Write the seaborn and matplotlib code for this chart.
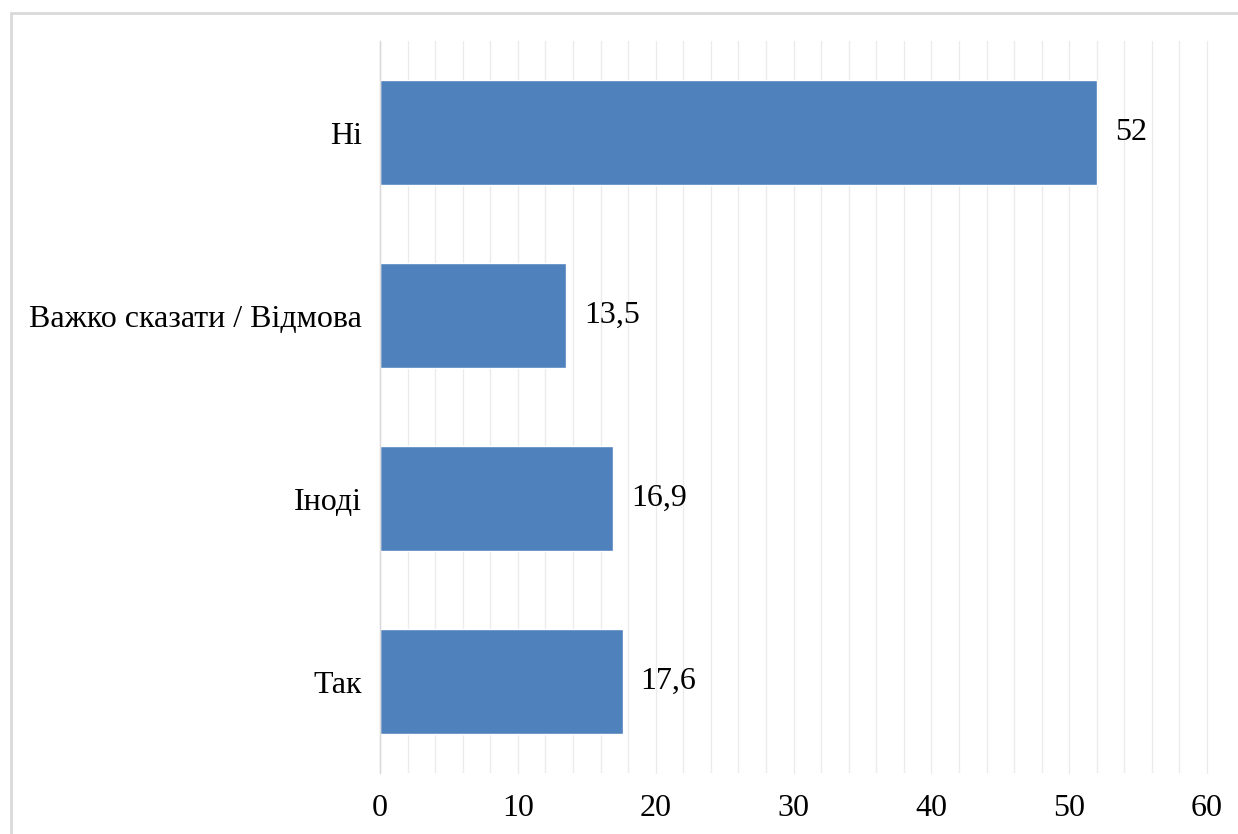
import matplotlib
matplotlib.use('Agg')
import matplotlib.pyplot as plt
import matplotlib.patches as patches
from matplotlib.ticker import MultipleLocator
import pandas as pd
import seaborn as sns

categories = ['Ні', 'Важко сказати / Відмова', 'Іноді', 'Так']
values = [52, 13.5, 16.9, 17.6]
value_labels = ['52', '13,5', '16,9', '17,6']
x_ticks = [0, 10, 20, 30, 40, 50, 60]

df = pd.DataFrame({'answer': categories, 'share': values})

sns.set_style('white')
plt.rcParams['font.family'] = ['Liberation Serif', 'DejaVu Serif']
plt.rcParams['text.color'] = 'black'

fig = plt.figure(figsize=(12.38, 8.34), dpi=100)
ax = fig.add_axes([0.307, 0.0731, 0.668, 0.8777])

sns.barplot(data=df, x='share', y='answer', order=categories, color='#4f81bd',
            saturation=1, width=0.574, orient='h', ax=ax)

ax.set_xlim(0, 60)
ax.set_ylim(3.5, -0.5)
ax.set_xticks(x_ticks)
ax.xaxis.set_minor_locator(MultipleLocator(2))
ax.grid(axis='x', which='both', color='#ebebeb', linewidth=1)
ax.set_axisbelow(True)
ax.set_xlabel('')
ax.set_ylabel('')

for side in ['top', 'right', 'bottom']:
    ax.spines[side].set_visible(False)
ax.spines['left'].set_color('#d9d9d9')
ax.spines['left'].set_linewidth(1)

ax.tick_params(axis='both', which='both', length=0, labelsize=23, labelcolor='black')
ax.tick_params(axis='x', pad=15)
ax.tick_params(axis='y', pad=13)

# keep the gridline at 60 visible on the axes edge
for gl in ax.get_xgridlines():
    gl.set_clip_on(False)

ax.bar_label(ax.containers[0], labels=value_labels, padding=13, fontsize=23, color='black')

# outer frame (chart area border, partly cut off)
frame = patches.Rectangle((11 / 1238, -0.05), 1.2, 1 - 13 / 834 + 0.05,
                          transform=fig.transFigure, fill=False,
                          edgecolor='#d9d9d9', linewidth=2, clip_on=False)
fig.patches.append(frame)

fig.savefig('out.png', dpi=100)
